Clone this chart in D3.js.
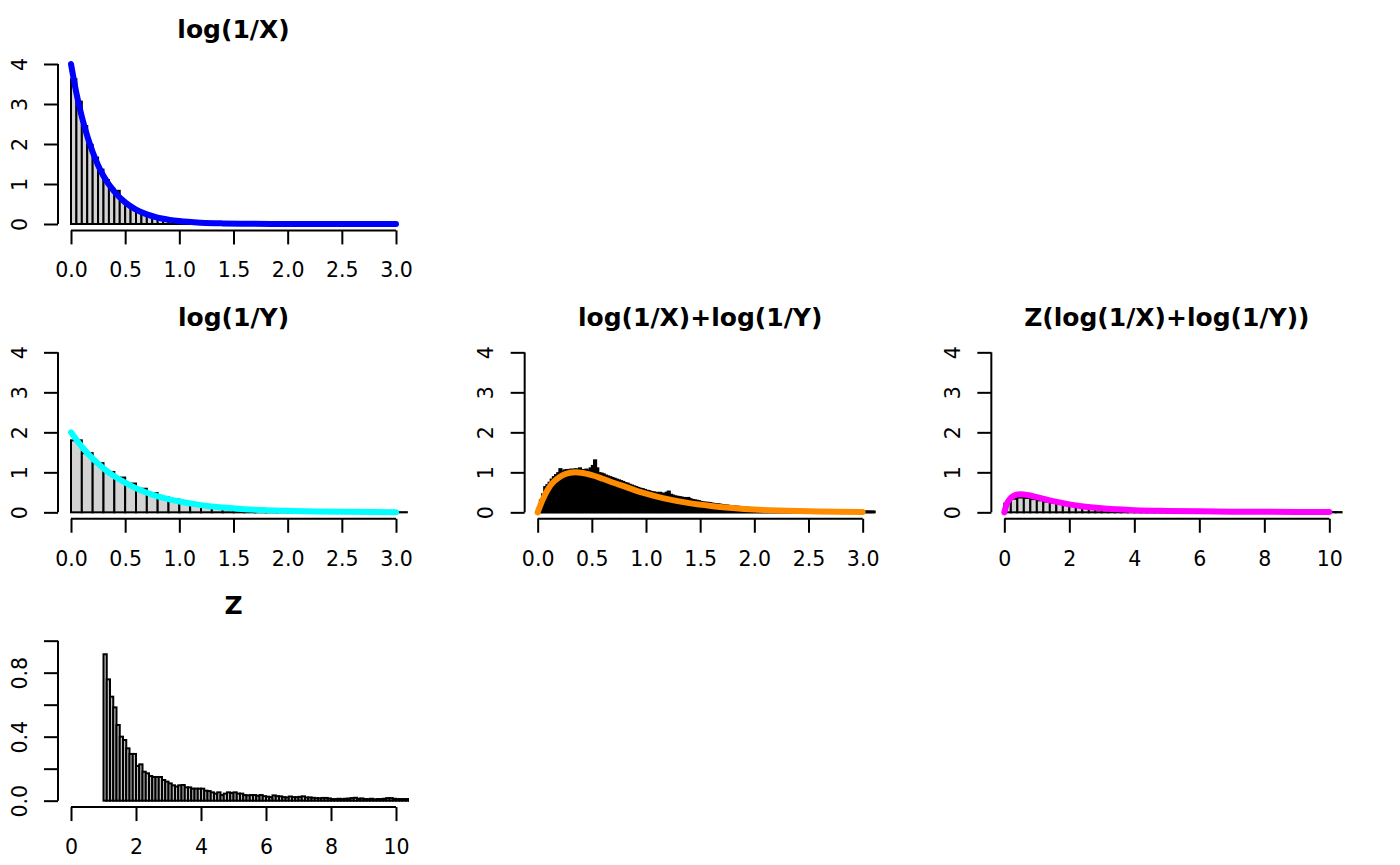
<!DOCTYPE html>
<html><head><meta charset="utf-8">
<script src="https://cdn.jsdelivr.net/npm/d3@7"></script>
<style>
body{margin:0;background:#fff}
svg{display:block}
text{font-family:"DejaVu Sans",sans-serif;fill:#000}
</style>
</head><body>
<svg id="chart" width="1400" height="865"></svg>
<script>
// ---------------- DATA ----------------
const titles = ["log(1/X)", "log(1/Y)", "log(1/X)+log(1/Y)", "Z(log(1/X)+log(1/Y))", "Z"];

// histogram of log(1/X): bins of 0.05 starting at 0
const logXBinStart = 0, logXBinWidth = 0.05;
const logXDensity = [3.62,3.06,2.45,1.98,1.66,1.36,1.10,0.89,0.83,0.60,0.49,0.40,0.33,0.27,0.22,0.18,0.15,0.12,0.10,0.08,
  0.066,0.054,0.044,0.036,0.030,0.024,0.020,0.016,0.013,0.011,0.009,0.007,0.006,0.004,0.004,0.003,0.002,0.002,0.001,0.001];
const logXCurveX = [0,0.05,0.1,0.15,0.2,0.25,0.3,0.4,0.5,0.6,0.7,0.8,0.9,1.0,1.2,1.4,1.6,2.0,2.5,3.0];
const logXCurveY = [4,3.27,2.68,2.2,1.8,1.47,1.2,0.81,0.54,0.36,0.24,0.16,0.11,0.073,0.033,0.015,0.007,0.001,0,0];

// histogram of log(1/Y): bins of 0.1
const logYBinStart = 0, logYBinWidth = 0.1;
const logYDensity = [1.80,1.48,1.23,1.01,0.87,0.72,0.59,0.48,0.38,0.32,0.24,0.20,0.16,0.125,0.10,0.08,0.065,0.055,0.045,0.035,
  0.030,0.024,0.020,0.016,0.013,0.011,0.009,0.007,0.006,0.005,0.004];
const logYCurveX = [0,0.1,0.2,0.3,0.4,0.5,0.6,0.7,0.8,0.9,1.0,1.2,1.4,1.6,1.8,2.0,2.5,3.0];
const logYCurveY = [2,1.64,1.34,1.1,0.9,0.74,0.6,0.49,0.4,0.33,0.27,0.18,0.12,0.08,0.055,0.037,0.013,0.005];

// histogram of log(1/X)+log(1/Y): bins of 0.02
const sumBinStart = 0, sumBinWidth = 0.02;
const sumDensity = [0.10,0.30,0.45,0.63,0.68,0.74,0.82,0.88,0.93,0.98,1.08,1.02,1.05,1.06,1.04,1.07,1.06,1.08,1.05,1.10,
  1.06,1.05,1.07,1.04,1.10,1.16,1.30,1.10,0.98,0.97,0.95,0.92,0.90,0.88,0.86,0.84,0.82,0.80,0.78,0.76,
  0.73,0.72,0.69,0.67,0.65,0.63,0.61,0.59,0.58,0.56,0.54,0.53,0.51,0.50,0.49,0.48,0.49,0.47,0.46,0.49,
  0.52,0.44,0.42,0.40,0.39,0.38,0.37,0.36,0.35,0.36,0.33,0.31,0.30,0.29,0.28,0.26,0.25,0.24,0.24,0.23,
  0.22,0.21,0.20,0.20,0.19,0.18,0.17,0.17,0.16,0.155,0.15,0.14,0.14,0.13,0.125,0.12,0.115,0.11,0.105,0.10,
  0.097,0.093,0.090,0.087,0.084,0.081,0.078,0.076,0.073,0.071,0.069,0.066,0.064,0.062,0.060,0.058,0.056,0.055,0.053,0.051,
  0.050,0.048,0.047,0.046,0.044,0.043,0.042,0.041,0.040,0.039,0.038,0.037,0.036,0.035,0.034,0.033,0.032,0.031,0.031,0.030,
  0.029,0.028,0.028,0.027,0.026,0.026,0.025,0.024,0.024,0.023,0.023,0.022,0.021,0.021,0.020,0.020];
const sumCurveX = [0,0.05,0.1,0.15,0.2,0.25,0.3,0.35,0.4,0.5,0.6,0.7,0.8,0.9,1.0,1.2,1.4,1.6,1.8,2.0,2.5,3.0];
const sumCurveY = [0,0.34,0.6,0.77,0.88,0.95,0.99,1.0,0.99,0.93,0.84,0.74,0.65,0.55,0.47,0.33,0.23,0.16,0.11,0.07,0.027,0.01];

// histogram of Z(log(1/X)+log(1/Y)): bins of 0.2
const zSumBinStart = 0, zSumBinWidth = 0.2;
const zSumDensity = [0.22,0.34,0.37,0.36,0.33,0.30,0.27,0.24,0.21,0.18,0.16,0.14,0.12,0.105,0.09,0.08,0.07,0.062,0.055,0.05,
  0.045,0.04,0.037,0.034,0.031,0.028,0.026,0.024,0.022,0.021,0.02,0.018,0.017,0.016,0.015,0.014,0.013,0.013,0.012,0.011,
  0.011,0.01,0.01,0.009,0.009,0.008,0.008,0.008,0.007,0.007,0.007,0.006,0.006];
const zSumCurveX = [0,0.05,0.1,0.2,0.3,0.4,0.5,0.6,0.8,1.0,1.25,1.5,2,2.5,3,3.5,4,5,6,7,8,9,10];
const zSumCurveY = [0,0.15,0.25,0.36,0.42,0.445,0.45,0.445,0.42,0.38,0.33,0.28,0.2,0.14,0.1,0.075,0.055,0.035,0.024,0.017,0.013,0.01,0.008];

// histogram of Z: bins of 0.1 starting at 1
const zBinStart = 1, zBinWidth = 0.1;
const zDensity = [0.915,0.758,0.65,0.583,0.473,0.40,0.379,0.327,0.292,0.292,
  0.217,0.227,0.181,0.171,0.154,0.148,0.148,0.148,0.129,0.119,
  0.108,0.096,0.088,0.096,0.098,0.083,0.083,0.075,0.075,0.075,
  0.075,0.0625,0.06,0.052,0.044,0.052,0.035,0.044,0.052,0.048,
  0.052,0.044,0.044,0.035,0.033,0.035,0.035,0.03,0.035,0.028,
  0.025,0.022,0.033,0.028,0.027,0.022,0.02,0.026,0.022,0.022,
  0.024,0.027,0.02,0.02,0.018,0.016,0.015,0.017,0.017,0.014,
  0.01,0.01,0.012,0.01,0.012,0.013,0.016,0.018,0.012,0.014,
  0.01,0.01,0.012,0.008,0.01,0.01,0.012,0.016,0.016,0.012,
  0.01,0.01,0.01,0.01,0.008];

// axis ticks
const xTicksA = [0,0.5,1,1.5,2,2.5,3];
const xLabelsA = ["0.0","0.5","1.0","1.5","2.0","2.5","3.0"];
const xTicksB = [0,2,4,6,8,10];
const xLabelsB = ["0","2","4","6","8","10"];
const yTicksA = [0,1,2,3,4];
const yLabelsA = ["0","1","2","3","4"];
const yTicksZ = [0,0.2,0.4,0.6,0.8,1.0];
const yLabelsZ = ["0.0","","0.4","","0.8",""];

const curveColors = ["#0000FF","#00FFFF","#FF8C00","#FF00FF"];
const barFills = ["#D3D3D3","#D3D3D3","#000000","#D3D3D3","#BEBEBE"];

// ---------------- LAYOUT ----------------
const W = 1400, H = 865;
const cellW = W/3, cellH = H/3;
const mLeft = 58, plotW = 351, mTop = 57.6, plotH = 172.8;

const panels = [
  {row:0,col:0,title:titles[0],xDom:[0,3],yDom:[0,4],start:logXBinStart,bw:logXBinWidth,dens:logXDensity,cx:logXCurveX,cy:logXCurveY,color:curveColors[0],fill:barFills[0],xt:xTicksA,xl:xLabelsA,yt:yTicksA,yl:yLabelsA},
  {row:1,col:0,title:titles[1],xDom:[0,3],yDom:[0,4],start:logYBinStart,bw:logYBinWidth,dens:logYDensity,cx:logYCurveX,cy:logYCurveY,color:curveColors[1],fill:barFills[1],xt:xTicksA,xl:xLabelsA,yt:yTicksA,yl:yLabelsA},
  {row:1,col:1,title:titles[2],xDom:[0,3],yDom:[0,4],start:sumBinStart,bw:sumBinWidth,dens:sumDensity,cx:sumCurveX,cy:sumCurveY,color:curveColors[2],fill:barFills[2],xt:xTicksA,xl:xLabelsA,yt:yTicksA,yl:yLabelsA},
  {row:1,col:2,title:titles[3],xDom:[0,10],yDom:[0,4],start:zSumBinStart,bw:zSumBinWidth,dens:zSumDensity,cx:zSumCurveX,cy:zSumCurveY,color:curveColors[3],fill:barFills[3],xt:xTicksB,xl:xLabelsB,yt:yTicksA,yl:yLabelsA},
  {row:2,col:0,title:titles[4],xDom:[0,10],yDom:[0,1],start:zBinStart,bw:zBinWidth,dens:zDensity,cx:null,cy:null,color:null,fill:barFills[4],xt:xTicksB,xl:xLabelsB,yt:yTicksZ,yl:yLabelsZ}
];

const svg = d3.select("#chart");
const defs = svg.append("defs");

panels.forEach((p, idx) => {
  const x0 = p.col*cellW + mLeft, y0 = p.row*cellH + mTop;
  const pad = d => (d[1]-d[0])*0.04;
  const xs = d3.scaleLinear().domain([p.xDom[0]-pad(p.xDom), p.xDom[1]+pad(p.xDom)]).range([x0, x0+plotW]);
  const ys = d3.scaleLinear().domain([p.yDom[0]-pad(p.yDom), p.yDom[1]+pad(p.yDom)]).range([y0+plotH, y0]);

  defs.append("clipPath").attr("id","clip"+idx)
    .append("rect").attr("x",x0).attr("y",y0).attr("width",plotW).attr("height",plotH);

  const g = svg.append("g").attr("clip-path",`url(#clip${idx})`);

  // histogram
  g.selectAll("rect.bar").data(p.dens).join("rect")
    .attr("class","bar")
    .attr("x",(d,i)=>xs(p.start + i*p.bw))
    .attr("width",(d,i)=>xs(p.start+(i+1)*p.bw)-xs(p.start+i*p.bw))
    .attr("y",d=>ys(d))
    .attr("height",d=>ys(0)-ys(d))
    .attr("fill",p.fill)
    .attr("stroke","#000")
    .attr("stroke-width",2);

  // density curve
  if (p.cx) {
    const pts = p.cx.map((v,i)=>[v,p.cy[i]]);
    g.append("path")
      .attr("d", d3.line().x(d=>xs(d[0])).y(d=>ys(d[1])).curve(d3.curveMonotoneX)(pts))
      .attr("fill","none").attr("stroke",p.color).attr("stroke-width",6)
      .attr("stroke-linecap","round").attr("stroke-linejoin","round");
  }

  // x axis
  const xa = svg.append("g").attr("transform",`translate(0,${y0+plotH})`)
    .call(d3.axisBottom(xs).tickValues(p.xt).tickFormat((d,i)=>p.xl[i]).tickSize(14).tickSizeOuter(0));
  xa.select(".domain").remove();
  xa.append("line").attr("x1",xs(p.xt[0])).attr("x2",xs(p.xt[p.xt.length-1]))
    .attr("y1",0).attr("y2",0).attr("stroke","#000").attr("stroke-width",2);
  xa.selectAll(".tick line").attr("stroke","#000").attr("stroke-width",2);
  xa.selectAll(".tick text").attr("y",47).attr("dy",null)
    .style("font-family","'DejaVu Sans',sans-serif").style("font-size","20.5px").attr("fill","#000");

  // y axis
  const ya = svg.append("g").attr("transform",`translate(${x0},0)`)
    .call(d3.axisLeft(ys).tickValues(p.yt).tickFormat((d,i)=>p.yl[i]).tickSize(14).tickSizeOuter(0));
  ya.select(".domain").remove();
  ya.append("line").attr("y1",ys(p.yt[0])).attr("y2",ys(p.yt[p.yt.length-1]))
    .attr("x1",0).attr("x2",0).attr("stroke","#000").attr("stroke-width",2);
  ya.selectAll(".tick line").attr("stroke","#000").attr("stroke-width",2);
  ya.selectAll(".tick text").attr("x",null).attr("dy",null).attr("y",null)
    .attr("text-anchor","middle")
    .attr("transform","translate(-31.5,0) rotate(-90)")
    .style("font-family","'DejaVu Sans',sans-serif").style("font-size","20.5px").attr("fill","#000");

  // title
  svg.append("text").attr("x",x0+plotW/2).attr("y",p.row*cellH+37.5)
    .attr("text-anchor","middle").style("font-weight","bold").style("font-size","25px")
    .text(p.title);
});
</script>
</body></html>
